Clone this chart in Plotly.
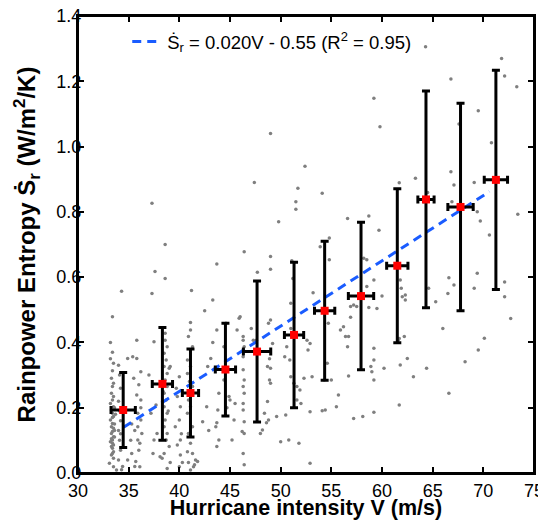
import plotly.graph_objects as go

# binned means (red squares) with error bars
bin_v = [34.46, 38.33, 41.1, 44.55, 47.67, 51.32, 54.34, 57.93, 61.51, 64.34, 67.75, 71.24]
bin_s = [0.193, 0.273, 0.245, 0.317, 0.372, 0.423, 0.497, 0.542, 0.635, 0.838, 0.815, 0.898]
bin_s_err = [0.115, 0.173, 0.135, 0.142, 0.216, 0.223, 0.213, 0.226, 0.236, 0.332, 0.318, 0.336]
bin_v_err = [1.2, 1.0, 0.8, 1.0, 1.35, 0.95, 1.0, 1.25, 1.05, 0.8, 1.25, 1.15]

# linear fit  S = 0.020 V - 0.55
fit_v = [34.5, 70.6]
fit_s = [0.02 * v - 0.55 for v in fit_v]

x_ticks = [30, 35, 40, 45, 50, 55, 60, 65, 70, 75]
y_ticks = [0, 0.2, 0.4, 0.6, 0.8, 1.0, 1.2, 1.4]

# individual storm samples (gray dots)
pts = [
    (33.4, 0.479), (33.2, 0.400), (33.5, 0.336), (33.4, 0.313), (33.3, 0.290), (33.5, 0.275), (33.4, 0.265),
    (33.3, 0.244), (33.5, 0.234), (33.4, 0.224), (33.2, 0.213), (33.5, 0.203), (33.3, 0.193), (33.4, 0.183),
    (33.5, 0.173), (33.2, 0.162), (33.4, 0.152), (33.3, 0.142), (33.5, 0.137), (33.4, 0.127), (33.3, 0.121),
    (33.5, 0.111), (33.4, 0.101), (33.2, 0.096), (33.4, 0.091), (33.5, 0.086), (33.3, 0.081), (33.4, 0.076),
    (33.5, 0.065), (33.4, 0.060), (33.3, 0.055), (33.5, 0.045), (33.1, 0.030), (33.5, 0.019), (33.8, 0.009),
    (33.6, 0.150), (33.6, 0.130), (33.6, 0.110), (33.7, 0.180), (33.6, 0.200), (33.2, 0.350), (33.4, 0.370),
    (33.4, 0.170), (33.3, 0.105),
    (34.3, 0.557), (34.0, 0.330), (34.1, 0.300), (34.2, 0.260), (34.0, 0.220), (34.1, 0.190), (34.2, 0.160),
    (34.0, 0.130), (34.1, 0.100), (34.2, 0.070), (34.0, 0.040), (34.3, 0.010), (34.4, 0.020), (34.2, 0.120),
    (34.9, 0.351), (35.4, 0.356), (35.8, 0.351), (35.5, 0.290), (35.8, 0.239), (36.2, 0.224), (35.9, 0.183),
    (36.2, 0.162), (35.9, 0.142), (36.3, 0.121), (35.9, 0.101), (36.1, 0.091), (35.3, 0.060), (34.9, 0.040),
    (35.7, 0.035), (36.1, 0.019), (35.8, 0.407), (36.0, 0.270), (36.2, 0.200), (35.6, 0.130), (36.0, 0.070),
    (35.2, 0.100), (35.3, 0.150), (36.2, 0.310), (35.6, 0.020),
    (37.3, 0.826), (37.3, 0.550), (37.6, 0.617), (37.5, 0.402), (37.2, 0.183), (37.5, 0.101), (37.8, 0.121),
    (38.1, 0.050), (37.7, 0.208), (37.0, 0.300), (37.4, 0.060),
    (38.6, 0.700), (38.6, 0.596), (38.6, 0.428), (38.6, 0.407), (38.8, 0.387), (38.5, 0.367), (38.7, 0.346),
    (38.5, 0.326), (38.8, 0.305), (38.6, 0.285), (38.8, 0.265), (38.5, 0.244), (38.7, 0.224), (38.5, 0.203),
    (38.8, 0.183), (38.6, 0.162), (38.5, 0.142), (38.8, 0.121), (38.7, 0.101), (39.0, 0.081), (38.5, 0.060),
    (38.3, 0.045), (39.1, 0.032), (38.8, 0.014), (39.1, 0.326), (39.0, 0.321), (38.4, 0.250), (38.9, 0.190),
    (40.0, 0.295), (39.8, 0.234), (40.1, 0.203), (40.0, 0.162), (39.6, 0.142), (40.1, 0.101), (39.8, 0.086),
    (40.1, 0.055), (40.3, 0.032), (40.0, 0.019), (39.7, 0.260), (40.2, 0.120),
    (41.2, 0.559), (41.1, 0.461), (41.1, 0.438), (40.9, 0.418), (41.3, 0.387), (40.8, 0.346), (41.1, 0.326),
    (40.8, 0.305), (41.3, 0.265), (40.9, 0.224), (41.1, 0.203), (40.8, 0.183), (41.3, 0.142), (40.9, 0.121),
    (41.1, 0.091), (40.8, 0.065), (41.3, 0.060), (41.6, 0.040), (40.9, 0.032), (41.4, 0.019), (41.1, 0.009),
    (41.8, 0.035), (41.5, 0.025), (41.0, 0.280),
    (42.5, 0.497), (43.3, 0.530), (43.7, 0.640), (43.1, 0.351), (42.8, 0.326), (42.3, 0.157), (42.9, 0.130),
    (43.7, 0.154), (43.8, 0.193), (43.9, 0.101), (43.7, 0.081), (43.9, 0.244), (43.6, 0.142), (42.7, 0.203),
    (43.7, 0.438), (43.3, 0.400),
    (44.4, 0.387), (44.6, 0.459), (44.4, 0.285), (44.9, 0.234), (45.0, 0.224), (45.2, 0.101), (45.5, 0.213),
    (45.4, 0.162), (45.7, 0.438), (45.9, 0.474), (46.0, 0.479), (44.7, 0.200),
    (46.4, 0.678), (46.3, 0.418), (46.3, 0.407), (46.4, 0.387), (46.3, 0.356), (46.3, 0.316), (46.4, 0.285),
    (46.3, 0.265), (46.4, 0.244), (46.3, 0.213), (46.3, 0.193), (46.4, 0.157), (46.2, 0.127), (46.4, 0.121),
    (46.3, 0.060), (46.4, 0.025), (47.1, 0.443), (47.3, 0.407), (47.6, 0.407),
    (47.7, 0.615), (49.0, 0.663), (49.0, 0.624), (49.0, 0.469), (48.8, 0.459), (49.2, 0.397), (48.7, 0.326),
    (49.0, 0.321), (48.9, 0.285), (49.0, 0.275), (48.7, 0.219), (48.4, 0.183), (48.8, 0.162), (48.2, 0.132),
    (48.0, 0.121), (48.6, 0.154), (49.6, 0.173), (50.0, 0.096), (50.8, 0.101), (50.5, 0.178), (49.0, 1.040),
    (47.4, 0.890), (49.8, 0.770), (48.9, 0.350),
    (51.2, 0.596), (51.0, 0.520), (51.0, 0.443), (51.1, 0.428), (50.4, 0.356), (50.6, 0.387), (50.9, 0.346),
    (51.0, 0.295), (51.3, 0.275), (51.6, 0.265), (51.9, 0.254), (51.6, 0.224), (52.0, 0.213), (51.8, 0.091),
    (52.6, 0.407), (52.7, 0.377), (52.9, 0.397), (53.1, 0.295), (52.9, 0.188), (52.9, 0.030), (52.3, 0.290),
    (53.2, 0.552), (52.4, 0.940), (51.7, 0.872), (51.5, 0.831), (51.5, 0.808), (51.1, 0.650),
    (53.9, 0.693), (54.8, 0.653), (54.7, 0.459), (54.6, 0.336), (54.3, 0.285), (54.1, 0.191), (54.4, 0.193),
    (55.0, 0.285), (55.5, 0.203), (55.7, 0.239), (55.9, 0.438), (56.2, 0.448), (56.4, 0.418), (56.7, 0.418),
    (56.6, 0.387), (56.7, 0.297), (56.9, 0.477), (56.9, 0.510), (54.1, 0.857), (54.8, 0.720), (56.6, 0.780),
    (57.2, 0.515), (57.5, 0.510), (58.2, 0.658), (58.5, 0.653), (58.5, 0.571), (59.2, 0.591), (59.2, 0.382),
    (59.2, 0.346), (58.9, 0.326), (59.2, 0.285), (59.0, 0.310), (58.1, 0.173), (57.2, 0.167), (59.2, 0.186),
    (58.7, 0.507), (59.5, 0.504), (60.0, 0.542), (58.7, 0.787), (59.2, 1.148), (59.8, 1.061), (59.7, 0.744),
    (60.2, 0.321), (61.6, 0.407), (61.7, 0.412), (61.8, 0.331), (62.2, 0.418), (62.5, 0.351), (63.1, 0.295),
    (62.0, 0.540), (62.3, 0.545), (62.3, 0.530), (61.7, 0.208), (61.8, 0.591), (61.9, 0.566), (61.7, 0.889),
    (63.3, 0.903),
    (64.4, 0.321), (64.6, 0.566), (65.3, 0.525), (66.0, 0.443), (66.6, 0.244), (66.6, 0.598), (66.5, 0.550),
    (67.1, 0.576), (64.5, 0.859), (64.3, 1.306), (66.8, 1.207), (66.8, 0.923), (67.6, 1.069), (67.1, 0.882),
    (66.9, 0.831), (64.1, 0.830),
    (68.2, 0.341), (69.1, 0.566), (69.4, 0.612), (69.5, 0.377), (70.1, 0.413), (72.1, 0.585), (72.1, 0.540),
    (72.7, 0.473), (69.5, 1.110), (69.1, 0.890), (69.7, 0.772), (70.8, 1.012), (71.8, 1.270), (72.1, 1.216),
    (73.3, 1.183), (73.4, 0.793), (70.6, 0.729), (69.4, 0.800),
]
dot_v = [p[0] for p in pts]
dot_s = [p[1] for p in pts]

font = 'Liberation Sans, Arial, sans-serif'

fig = go.Figure()
fig.add_trace(go.Scatter(x=dot_v, y=dot_s, mode='markers',
                         marker=dict(size=3.5, color='#7f7f7f'),
                         showlegend=False, hoverinfo='skip'))
fig.add_trace(go.Scatter(x=fit_v, y=fit_s, mode='lines',
                         line=dict(color='#1a5cff', width=3, dash='9px,6px'),
                         name='Ṡ<sub>r</sub> = 0.020V - 0.55 (R<sup>2</sup> = 0.95)'))
fig.add_trace(go.Scatter(x=bin_v, y=bin_s, mode='markers',
                         marker=dict(symbol='square', size=8, color='red'),
                         error_y=dict(type='data', array=bin_s_err, color='black', thickness=3, width=4),
                         error_x=dict(type='data', array=bin_v_err, color='black', thickness=3, width=4),
                         showlegend=False))

axis_common = dict(showline=True, linecolor='black', linewidth=2, mirror='ticks',
                   ticks='inside', ticklen=6, tickwidth=1.5, tickcolor='black',
                   showgrid=False, zeroline=False, ticklabeloverflow='allow',
                   tickfont=dict(family=font, size=18, color='black'))

fig.update_xaxes(range=[30, 75], tickvals=x_ticks, **axis_common,
                 title=dict(text='<b>Hurricane intensity V (m/s)</b>', standoff=4,
                            font=dict(family=font, size=21.5, color='black')))
fig.update_yaxes(range=[0, 1.4], tickvals=y_ticks, tickformat='.1f', ticklabelstandoff=-9, **axis_common,
                 title=dict(text='<b>Rainpower Entropy Ṡ<sub>r</sub> (W/m<sup>2</sup>/K)</b>', standoff=14,
                            font=dict(family=font, size=24, color='black')))

# box frame: ticked axes on the top and right as well
frame = dict(showline=True, linecolor='black', linewidth=2, ticks='inside', ticklen=6, tickwidth=1.5,
             tickcolor='black', showgrid=False, zeroline=False, showticklabels=False)

# the page body adds an 8px offset on the left/top, so the figure is 8px smaller
fig.update_layout(width=538, height=512, plot_bgcolor='white', paper_bgcolor='white',
                  margin=dict(l=70, r=12, t=8, b=47, autoexpand=False),
                  font=dict(family=font, color='black'),
                  xaxis2=dict(overlaying='x', side='top', anchor='y', range=[30, 75], tickvals=x_ticks, **frame),
                  yaxis2=dict(overlaying='y', side='right', anchor='x', range=[0, 1.4], tickvals=y_ticks, **frame),
                  shapes=[dict(type='rect', xref='paper', yref='paper', x0=0, x1=1, y0=0, y1=1,
                               line=dict(color='black', width=2), layer='above')],
                  legend=dict(x=0.108, y=0.985, xanchor='left', yanchor='top', bgcolor='rgba(0,0,0,0)',
                              font=dict(family=font, size=18.5, color='black')))

fig.write_html("out.html")
